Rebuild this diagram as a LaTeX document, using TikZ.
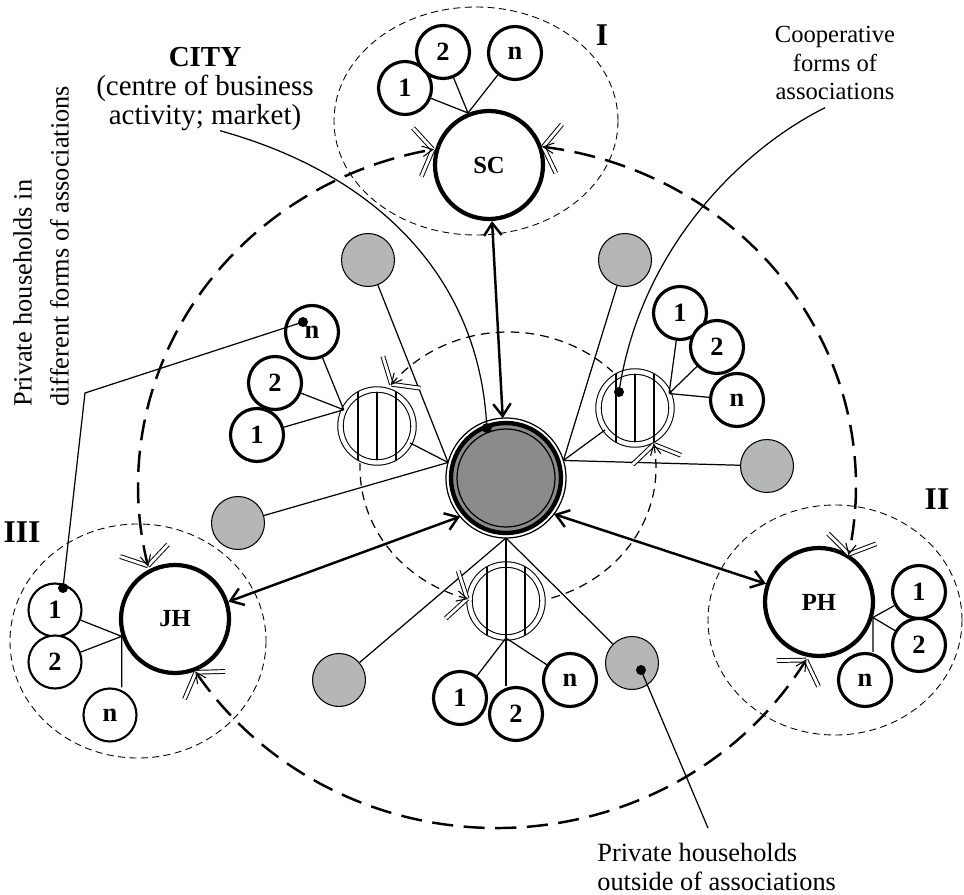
\documentclass[tikz,border=0pt]{standalone}
\usepackage{fontspec}
\setmainfont{Liberation Serif}
\usepackage{tikz}
\usetikzlibrary{arrows.meta,positioning,calc,decorations.markings}

\definecolor{citygray}{RGB}{138,140,140}
\definecolor{hhgray}{RGB}{181,183,183}

\tikzset{
  member/.style={circle, draw, fill=white, line width=1.8pt, minimum size=1.06cm, inner sep=0pt, font=\fontsize{15}{15}\selectfont\bfseries},
  thinmember/.style={member, line width=1.2pt},
  family/.style={circle, draw, fill=white, line width=2.4pt, minimum size=2.16cm, inner sep=0pt, font=\fontsize{14}{14}\selectfont\bfseries},
  outside/.style={circle, draw, fill=hhgray, line width=0.6pt, minimum size=1.06cm, inner sep=0pt},
  coop/.style={circle, draw, double, double distance=2.5pt, line width=0.6pt, fill=white, minimum size=1.46cm, inner sep=0pt},
  link/.style={line width=0.7pt},
  bigarrow/.style={line width=1.4pt, {Straight Barb[length=7pt,width=10pt]}-{Straight Barb[length=7pt,width=10pt]}},
  groupring/.style={dash pattern=on 4pt off 2.5pt, line width=0.5pt},
  tipline/.style={solid, double, double distance=1.6pt, line width=0.55pt},
  dtips/.style={postaction={decorate, decoration={markings,
    mark=at position 0 with {\draw[tipline] (9pt,14pt) -- (0pt,0pt) (0pt,0pt) -- (9pt,-14pt); \draw[solid, line width=0.6pt] (6pt,3pt) -- (0pt,0pt) -- (6pt,-3pt);},
    mark=at position 1 with {\draw[tipline] (-9pt,14pt) -- (0pt,0pt) (0pt,0pt) -- (-9pt,-14pt); \draw[solid, line width=0.6pt] (-6pt,3pt) -- (0pt,0pt) -- (-6pt,-3pt);}}}},
  coopring/.style={dash pattern=on 5pt off 3.5pt, line width=0.7pt, dtips},
  cityring/.style={dash pattern=on 12pt off 6pt, line width=1.4pt, dtips},
  note/.style={font=\fontsize{15}{16.3}\selectfont, align=center, inner sep=0pt},
  dot/.style={circle, fill, inner sep=0pt, minimum size=0.2cm},
  roman/.style={font=\fontsize{18}{18}\selectfont\bfseries}
}

\begin{document}
\begin{tikzpicture}[x=0.02cm, y=-0.02cm]
\useasboundingbox (0,0) rectangle (964,895);

% dashed borders of the groups
\draw[groupring] (476,121) ellipse [x radius=142, y radius=114];
\draw[groupring] (835,620) ellipse [x radius=127, y radius=115];
\draw[groupring] (138,641) ellipse [x radius=128, y radius=117];
\node[roman] (gI) at (602,35) {I};
\node[roman] (gII) at (937,499) {II};
\node[roman] (gIII) at (22,532) {III};

% city
\node[circle, draw, line width=0.7pt, minimum size=2.4cm, inner sep=0pt, outer sep=0pt] (city) at (506,478) {};
\draw[line width=2.5pt, fill=citygray] (city.center) circle [radius=1.1cm];
\draw[line width=0.7pt] (city.center) circle [radius=0.98cm];

% cooperative associations
\node[coop] (cl) at (377,426) {};
\node[coop] (cr) at (635,408) {};
\node[coop] (cb) at (506,601) {};

% private households in forms of associations
\node[family] (sc) at (489,165) {SC};
\node[family] (ph) at (819,602) {PH};
\node[family] (jh) at (175,619) {JH};

% members
\node[member] (s1) at (405,88) {1};
\node[member] (s2) at (443,52) {2};
\node[member] (sn) at (515,53) {n};
\node[member] (l2) at (275,383) {2};
\node[member] (l1) at (257,435) {1};
\node[member] (ln) at (312,332) {n};
\node[member] (r1) at (680,313) {1};
\node[member] (r2) at (717,347) {2};
\node[member] (rn) at (737,400) {n};
\node[member] (b1) at (460,698) {1};
\node[member] (b2) at (516,714) {2};
\node[member] (bn) at (570,680) {n};
\node[thinmember] (j1) at (55,610) {1};
\node[thinmember] (j2) at (55,662) {2};
\node[thinmember] (jn) at (110,715) {n};
\node[member] (p1) at (919,592) {1};
\node[member] (p2) at (919,645) {2};
\node[member] (pn) at (865,680) {n};

% private households outside of associations
\node[outside] (gtl) at (368,260) {};
\node[outside] (gtr) at (625,260) {};
\node[outside] (gl) at (238,523) {};
\node[outside] (gr) at (767,466) {};
\node[outside] (gbl) at (339,680) {};
\node[outside] (gbr) at (632,663) {};

% links to the city
\draw[link] (gtl) -- (city.165);
\draw[link] (cl) -- (city.165);
\draw[link] (gl) -- (city.165);
\draw[link] (gtr) -- (city.17);
\draw[link] (cr) -- (city.17);
\draw[link] (gr) -- (city.17);
\draw[link] (gbl) -- (city.270);
\draw[link] (gbr) -- (city.270);
\draw[link] (city.270) -- (b2.north -| city.270);

% links to the members
\draw[link] (sc.112) -- (s1) (sc.112) -- (s2) (sc.112) -- (sn);
\draw[link] (cl.154) -- (l1) (cl.154) -- (l2) (cl.154) -- (ln);
\draw[link] (cr.23) -- (r1) (cr.23) -- (r2) (cr.23) -- (rn);
\draw[link] (cb.south) -- (b1) (cb.south) -- (bn);
\draw[link] (jh.198) -- (j1) (jh.198) -- (j2) (jh.198) -- (jh.198 |- jn.north);
\draw[link] (ph.344) -- (p1) (ph.344) -- (p2) (ph.344) -- (ph.344 |- pn.north);

% stripes of the cooperatives
\foreach \c in {cl,cr,cb}
  \foreach \dx in {-19,0,19}
    \draw[link] ([shift={(\dx,-34)}]\c.center) -- ([shift={(\dx,34)}]\c.center);

% main flows
\draw[bigarrow] (sc) -- (city);
\draw[bigarrow] (city.220) -- (jh.18);
\draw[bigarrow] (city.323) -- (ph.161);

% rings
\foreach \s/\e in {-142/-45, -10/75, 106/182}
  \draw[coopring] ($(508,468)+(\s:148 and 136)$) arc [start angle=\s, end angle=\e, x radius=148, y radius=136];
\foreach \s/\e in {-82.6/11.5, 30.6/147, 166.5/259.7}
  \draw[cityring] ($(497,486)+(\s:359 and 342)$) arc [start angle=\s, end angle=\e, x radius=359, y radius=342];

% labels
\node[note, font=\fontsize{16.5}{16.3}\selectfont] (citylabel) at (205,89) {\textbf{CITY}\\(centre of business\\activity; market)};
\node[dot] (citydot) at ($(city.center)+(111:1.07cm)$) {};
\draw[link] ([shift={(15,0)}]citylabel.south) .. controls (380,175) and (480,280) .. (citydot.center);

\node[note, font=\fontsize{14}{16}\selectfont] (cooplabel) at (835,63) {Cooperative\\forms of\\associations};
\node[dot] (coopdot) at ([shift={(-16,-16)}]cr.center) {};
\draw[link] ([shift={(-10,8)}]cooplabel.south) .. controls (740,150) and (640,250) .. (coopdot.center);

\node[note, align=left, rotate=90, anchor=north west, font=\fontsize{15}{21}\selectfont] (inlabel) at (13,407) {Private households in\\different forms of associations};
\node[dot] (lndot) at ([shift={(-9,-10)}]ln.center) {};
\node[dot] (j1dot) at ([shift={(8,-22)}]j1.center) {};
\coordinate (bend) at (85,393);
\draw[link] (lndot.center) -- (bend) -- (j1dot.center);

\node[note, align=left, anchor=north west] (outlabel) at (597,843) {Private households\\outside of associations};
\node[dot] (gbrdot) at ([shift={(9,7)}]gbr.center) {};
\draw[link] (gbrdot.center) -- ([shift={(111,-15)}]outlabel.north west);
\end{tikzpicture}
\end{document}
